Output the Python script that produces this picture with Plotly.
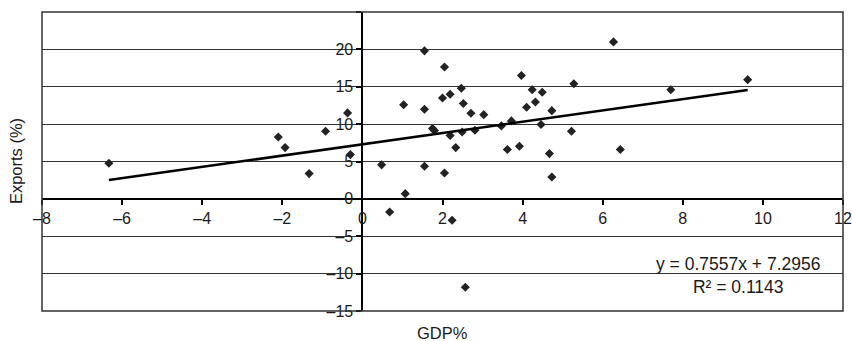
import plotly.graph_objects as go

gdp = [-6.33, -2.10, -1.93, -1.33, -0.92, -0.37, -0.30, 0.48, 0.68, 1.03, 1.07, 1.55, 1.55, 1.55,
       1.75, 1.80, 2.00, 2.05, 2.05, 2.19, 2.19, 2.24, 2.33, 2.47, 2.52, 2.49, 2.57, 2.71, 2.81,
       3.03, 3.47, 3.62, 3.72, 3.92, 3.97, 4.10, 4.24, 4.32, 4.46, 4.49, 4.67, 4.73, 4.73, 5.22,
       5.28, 6.27, 6.44, 7.70, 9.62]
exports = [4.76, 8.28, 6.86, 3.38, 9.04, 11.5, 5.92, 4.55, -1.75, 12.6, 0.7, 19.8, 12.0, 4.36,
           9.4, 9.15, 13.5, 17.65, 3.47, 14.0, 8.47, -2.86, 6.86, 14.8, 12.75, 8.95, -11.83, 11.45, 9.18,
           11.27, 9.76, 6.6, 10.43, 7.04, 16.5, 12.25, 14.6, 12.96, 9.94, 14.26, 6.06, 11.8, 2.93, 9.04,
           15.4, 21.0, 6.6, 14.6, 15.95]

slope = 0.7557
intercept = 7.2956
r2 = 0.1143

x_ticks = [-8, -6, -4, -2, 0, 2, 4, 6, 8, 10, 12]
y_ticks = [-15, -10, -5, 0, 5, 10, 15, 20, 25]

def lab(v, show=True):
    if not show:
        return ""
    return ("\u2013" + str(abs(v))) if v < 0 else str(v)

x_text = [lab(v) for v in x_ticks]
y_text = [lab(v, v != 25) for v in y_ticks]

XR = [-8, 12]
YR = [-15, 25]
FONT = "Liberation Sans, Arial, sans-serif"
INK = "#1a1a1a"
FS = 16

x0, x1 = min(gdp), max(gdp)

fig = go.Figure()
fig.add_trace(go.Scatter(
    x=gdp, y=exports, mode="markers",
    marker=dict(symbol="diamond", size=7, color="#222222", line=dict(width=0)),
    showlegend=False, hoverinfo="x+y",
))
fig.add_trace(go.Scatter(
    x=[x0, x1], y=[slope * x0 + intercept, slope * x1 + intercept], mode="lines",
    line=dict(color="#000000", width=2.5), showlegend=False, hoverinfo="skip",
))

fig.update_layout(
    width=852, height=341,
    margin=dict(l=42, r=9, t=12, b=30),
    paper_bgcolor="white", plot_bgcolor="white",
    font=dict(family=FONT, size=FS, color=INK),
    xaxis=dict(
        range=XR, tickvals=x_ticks, ticktext=x_text,
        anchor="free", position=(0 - YR[0]) / (YR[1] - YR[0]),
        showline=True, linecolor="#000000", linewidth=2,
        ticks="outside", ticklen=5, tickwidth=2, tickcolor="#000000",
        showgrid=False, zeroline=False, tickfont=dict(size=FS, color=INK),
        ticklabeloverflow="allow", automargin=False,
    ),
    yaxis=dict(
        range=YR, tickvals=y_ticks, ticktext=y_text,
        anchor="free", position=(0 - XR[0]) / (XR[1] - XR[0]),
        showline=True, linecolor="#000000", linewidth=2,
        ticks="outside", ticklen=5, tickwidth=2, tickcolor="#000000",
        showgrid=True, gridcolor="#333333", gridwidth=1,
        zeroline=False, tickfont=dict(size=FS, color=INK),
        ticklabeloverflow="allow", automargin=False,
    ),
    shapes=[dict(type="rect", xref="paper", yref="paper", x0=0, y0=0, x1=1, y1=1,
                 line=dict(color="#333333", width=1.5), layer="above")],
    annotations=[
        dict(text="Exports (%)", textangle=-90, xref="paper", yref="paper",
             x=-0.033, y=0.5, xanchor="center", yanchor="middle", showarrow=False,
             font=dict(size=16.5, color=INK)),
        dict(text="GDP%", xref="paper", yref="paper", x=0.5, y=-0.072,
             xanchor="center", yanchor="middle", showarrow=False,
             font=dict(size=16.5, color=INK)),
        dict(text=f"y = {slope}x + {intercept}<br>R\u00b2 = {r2}",
             xref="x", yref="y", x=9.39, y=-10.2, xanchor="center", yanchor="middle",
             showarrow=False, align="center", font=dict(size=17.5, color=INK)),
    ],
)

fig.write_html("out.html", config={"displayModeBar": False},
               post_script="document.body.style.margin='0px';")
